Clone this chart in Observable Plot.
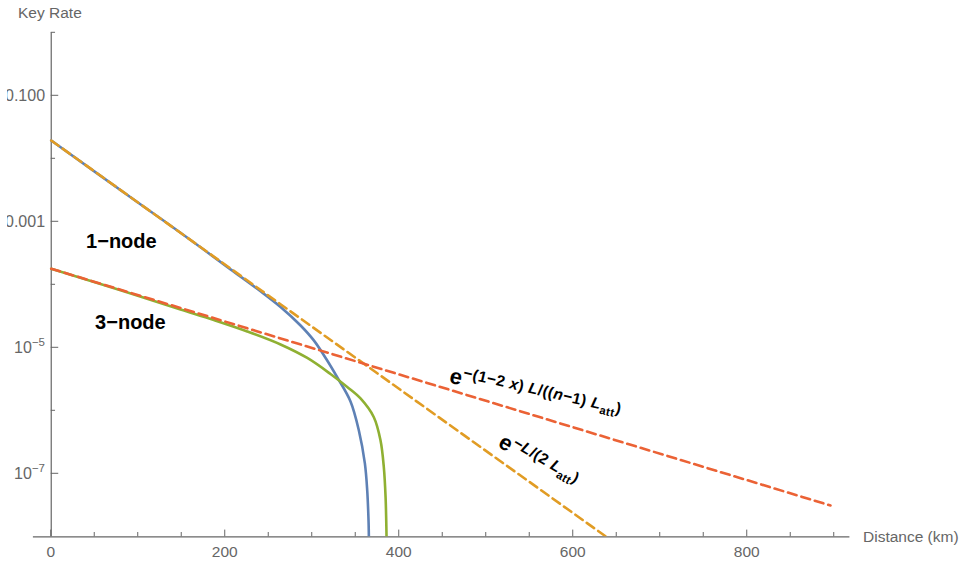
<!DOCTYPE html>
<html>
<head>
<meta charset="utf-8">
<script src="https://cdn.jsdelivr.net/npm/d3@7"></script>
<script src="https://cdn.jsdelivr.net/npm/@observablehq/plot@0.6"></script>
<style>
  html, body { margin: 0; padding: 0; background: #fff; }
  #wrap { width: 964px; height: 563px; overflow: hidden; }
  #wrap svg { display: block; }
</style>
</head>
<body>
<div id="wrap"></div>
<script>
// Key rate versus distance: 1-node and 3-node schemes with their exponential bounds.

// 1-node key rate (km, rate)
const oneNodeDistance = [0, 100, 148.6, 206.1, 240.6, 263.6, 286.6, 301.8, 317.2, 328.7, 344.0, 353.6, 360.5, 363.2, 364.7, 365.1];
const oneNodeRate = [1.95e-2, 2.01e-3, 6.7e-4, 1.76e-4, 7.9e-5, 4.45e-5, 2.26e-5, 1.31e-5, 6.29e-6, 3.41e-6, 1.41e-6, 4.87e-7, 1.46e-7, 5.43e-8, 1.82e-8, 1e-8];

// 3-node key rate (km, rate)
const threeNodeDistance = [0, 79.7, 148.6, 186.9, 225.3, 263.6, 294.3, 321.0, 340.2, 355.5, 370.8, 378.5, 382.3, 384.3, 385.4];
const threeNodeRate = [1.80e-4, 8.18e-5, 4.06e-5, 2.76e-5, 1.82e-5, 1.13e-5, 6.89e-6, 3.84e-6, 2.39e-6, 1.57e-6, 7.91e-7, 3.38e-7, 1.27e-7, 4.26e-8, 1e-8];

// Bound e^{-L/(2 Latt)}
const directBoundDistance = [0, 638];
const directBoundRate = [1.95e-2, 1e-8];

// Bound e^{-(1-2x) L/((n-1) Latt)}
const relayBoundDistance = [0, 895.7];
const relayBoundRate = [1.80e-4, 3.14e-8];

// Axis ticks
const distanceTicks = [0, 200, 400, 600, 800];
const distanceMinorTicks = [50, 100, 150, 250, 300, 350, 450, 500, 550, 650, 700, 750, 850, 900];
const rateTicks = [1e-1, 1e-3, 1e-5, 1e-7];
const rateMinorTicks = [1, 1e-2, 1e-4, 1e-6];
const rateTickBase = ["0.100", "0.001", "10", "10"];
const rateTickExponent = ["", "", "−5", "−7"];

// Curve labels
const curveLabels = ["1−node", "3−node"];
const curveLabelDistance = [80.6, 91.0];
const curveLabelRate = [4.94e-4, 2.48e-5];

// Formula label anchors (distance km, rate)
const relayFormulaAnchor = [457.2, 2.76e-6];
const directFormulaAnchor = [513.0, 2.71e-7];

const FONT = "'Liberation Sans', Arial, Helvetica, sans-serif";
const AXIS = "#666666";
const colors = {blue: "#5E81B5", orange: "#E19C24", green: "#8FB032", red: "#EB6235"};

const toRows = (xs, ys) => xs.map((d, i) => ({distance: d, rate: ys[i]}));

const chart = Plot.plot({
  width: 964,
  height: 563,
  marginLeft: 32.9,
  marginRight: 114.6,
  marginTop: 32.3,
  marginBottom: 26.7,
  style: {fontFamily: FONT, background: "#fff"},
  x: {domain: [-20.5, 918], axis: null},
  y: {type: "log", domain: [1e-8, 1], axis: null},
  marks: [
    Plot.ruleX([0], {stroke: AXIS, strokeWidth: 1.2}),
    Plot.ruleY([1e-8], {stroke: AXIS, strokeWidth: 1.2}),
    Plot.line(toRows(oneNodeDistance, oneNodeRate), {x: "distance", y: "rate", stroke: colors.blue, strokeWidth: 2.6, curve: "catmull-rom", clip: true}),
    Plot.line(toRows(threeNodeDistance, threeNodeRate), {x: "distance", y: "rate", stroke: colors.green, strokeWidth: 2.6, curve: "catmull-rom", clip: true}),
    Plot.line(toRows(directBoundDistance, directBoundRate), {x: "distance", y: "rate", stroke: colors.orange, strokeWidth: 2.6, strokeDasharray: "9,5", clip: true}),
    Plot.line(toRows(relayBoundDistance, relayBoundRate), {x: "distance", y: "rate", stroke: colors.red, strokeWidth: 2.6, strokeDasharray: "9,5", clip: true}),
    Plot.text(curveLabels, {
      x: (d, i) => curveLabelDistance[i],
      y: (d, i) => curveLabelRate[i],
      text: d => d,
      fontSize: 20, fontWeight: "bold", fill: "#000", textAnchor: "middle", lineAnchor: "middle"
    })
  ]
});
document.getElementById("wrap").append(chart);

const x = chart.scale("x");
const y = chart.scale("y");
const svg = d3.select(chart);

// the figure's left bound trims the widest tick label
svg.append("defs").append("clipPath").attr("id", "label-clip")
  .append("rect").attr("x", 7).attr("y", 0).attr("width", 957).attr("height", 563);

const axisG = svg.append("g").attr("font-family", FONT).attr("fill", AXIS).attr("text-anchor", "start");

const x0 = x.apply(0);
const yBottom = y.apply(1e-8);

// x ticks point up from the axis
axisG.selectAll(".xmaj").data(distanceTicks).join("line")
  .attr("x1", d => x.apply(d)).attr("x2", d => x.apply(d))
  .attr("y1", yBottom).attr("y2", yBottom - 6.7)
  .attr("stroke", AXIS).attr("stroke-width", 1);
axisG.selectAll(".xmin").data(distanceMinorTicks).join("line")
  .attr("x1", d => x.apply(d)).attr("x2", d => x.apply(d))
  .attr("y1", yBottom).attr("y2", yBottom - 4.3)
  .attr("stroke", AXIS).attr("stroke-width", 1);
axisG.selectAll(".xlab").data(distanceTicks).join("text")
  .attr("x", d => x.apply(d)).attr("y", yBottom + 20.4)
  .attr("text-anchor", "middle").attr("font-size", 15.5)
  .text(d => d);

// y ticks point right from the axis
axisG.selectAll(".ymaj").data(rateTicks).join("line")
  .attr("x1", x0).attr("x2", x0 + 7.5)
  .attr("y1", d => y.apply(d)).attr("y2", d => y.apply(d))
  .attr("stroke", AXIS).attr("stroke-width", 1);
axisG.selectAll(".ymin").data(rateMinorTicks).join("line")
  .attr("x1", x0).attr("x2", x0 + 4.3)
  .attr("y1", d => y.apply(d)).attr("y2", d => y.apply(d))
  .attr("stroke", AXIS).attr("stroke-width", 1);
const yLabels = axisG.append("g").attr("clip-path", "url(#label-clip)");
rateTicks.forEach((v, i) => {
  const t = yLabels.append("text")
    .attr("x", x0 - 5.7).attr("y", y.apply(v) + 5.5)
    .attr("text-anchor", "end").attr("font-size", 16);
  t.append("tspan").text(rateTickBase[i]);
  if (rateTickExponent[i]) t.append("tspan").attr("font-size", 11.5).attr("dy", -7).text(rateTickExponent[i]);
});

// axis titles
axisG.append("text").attr("x", x0 - 32.7).attr("y", y.apply(1) - 14)
  .attr("text-anchor", "start").attr("font-size", 15.5).text("Key Rate");
axisG.append("text").attr("x", x.apply(918) + 13.6).attr("y", yBottom + 5.3)
  .attr("text-anchor", "start").attr("font-size", 15.5).text("Distance (km)");

// formula labels along the bounds
function formula(anchor, angle, parts) {
  const g = svg.append("g")
    .attr("transform", `translate(${x.apply(anchor[0])},${y.apply(anchor[1])}) rotate(${angle})`)
    .attr("font-family", FONT).attr("font-weight", "bold").attr("fill", "#000")
    .attr("letter-spacing", 0.4);
  const t = g.append("text").attr("x", 0).attr("y", 0).attr("text-anchor", "start");
  parts.forEach(([s, size, dy, italic]) => {
    const ts = t.append("tspan").attr("font-size", size).text(s);
    if (dy) ts.attr("dy", dy);
    if (italic) ts.attr("font-style", "italic");
  });
}
formula(relayFormulaAnchor, 13, [
  ["e", 22, 0], ["−(1−2 ", 15.5, -8], ["x", 15.5, 0, true], [") ", 15.5], ["L", 15.5, 0, true], ["/((", 15.5],
  ["n", 15.5, 0, true], ["−1) ", 15.5], ["L", 15.5, 0, true], ["att", 11.5, 4.5], [")", 15.5, -4.5]
]);
formula(directFormulaAnchor, 31, [
  ["e", 22, 0], ["−", 15.5, -8], ["L", 15.5, 0, true], ["/(2 ", 15.5], ["L", 15.5, 0, true], ["att", 11.5, 4.5], [")", 15.5, -4.5]
]);
</script>
</body>
</html>
